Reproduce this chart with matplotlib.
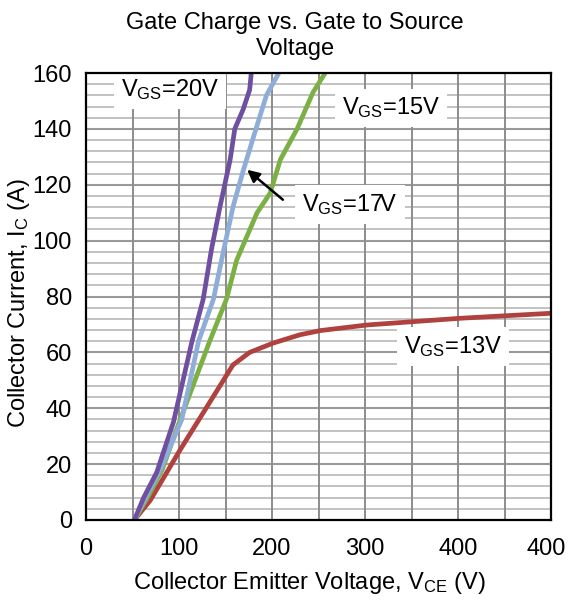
import matplotlib
matplotlib.use("Agg")
import matplotlib.pyplot as plt
import matplotlib.transforms as mtransforms
import numpy as np

plt.rcParams['font.family'] = ['Liberation Sans', 'DejaVu Sans']
plt.rcParams['mathtext.fontset'] = 'custom'
plt.rcParams['mathtext.rm'] = 'Liberation Sans'
plt.rcParams['mathtext.default'] = 'regular'

# ---- data ----
vce_20 = [52, 62, 76, 94, 114, 126, 135, 144, 155, 160, 169, 176, 178]
ic_20 = [0, 8, 17, 35, 64, 79, 97, 112, 129, 140, 147, 154, 161]

vce_17 = [52, 64, 80, 103, 121, 137, 147, 158, 169, 180, 194, 209]
ic_17 = [0, 8, 18, 36, 64, 79, 95, 112, 125, 137, 152, 161]

vce_15 = [52, 66, 82, 98, 133, 151, 162, 184, 198, 209, 227, 244, 259]
ic_15 = [0, 8, 18, 33, 64, 79, 93, 110, 117, 129, 140, 153, 161]

vce_13 = [52, 69, 101, 130, 158, 176, 201, 230, 252, 302, 402, 500]
ic_13 = [0, 7, 25, 40.5, 55.5, 60, 63.3, 66.3, 67.8, 69.8, 72.2, 74]

x_ticks = [0, 100, 200, 300, 400, 500]
x_tick_labels = ["0", "100", "200", "300", "400", "400"]
y_ticks = [0, 20, 40, 60, 80, 100, 120, 140, 160]

series_labels = ["$V_{GS}$=20V", "$V_{GS}$=17V", "$V_{GS}$=15V", "$V_{GS}$=13V"]

title = "Gate Charge vs. Gate to Source\nVoltage"
xlabel = "Collector Emitter Voltage, $V_{CE}$ (V)"
ylabel = "Collector Current, $I_C$ (A)"

# ---- figure ----
W, H = 569, 606
fig = plt.figure(figsize=(W / 100, H / 100), dpi=100)
ax = fig.add_axes([86 / W, 1 - 520 / H, (551 - 86) / W, (520 - 73) / H])
ax.set_xlim(0, 500)
ax.set_ylim(0, 160)

# grid
for yv in np.arange(4, 160, 4):
    major = (yv % 20 == 0)
    ax.axhline(yv, color='#999999' if major else '#b8b8b8', lw=1.5 if major else 1.2, zorder=1)
for xv in np.arange(50, 500, 50):
    ax.axvline(xv, color='#8c8c8c', lw=1.4, zorder=1)

lw = 3.4
ax.plot(vce_13, ic_13, color='#b0413e', lw=lw, zorder=3, solid_capstyle='round')
ax.plot(vce_15, ic_15, color='#7bb144', lw=lw, zorder=3, solid_capstyle='round')
ax.plot(vce_17, ic_17, color='#8fadd9', lw=lw, zorder=4, solid_capstyle='round')
ax.plot(vce_20, ic_20, color='#6f50a0', lw=lw, zorder=5, solid_capstyle='round')

box = dict(facecolor='white', edgecolor='none', pad=5)
fs = 17
ax.text(90, 154, series_labels[0], fontsize=fs, ha='center', va='center', bbox=box, zorder=6)
ax.text(284, 113, series_labels[1], fontsize=fs, ha='center', va='center', bbox=box, zorder=6)
ax.text(328, 147.5, series_labels[2], fontsize=fs, ha='center', va='center', bbox=box, zorder=6)
ax.text(395, 62, series_labels[3], fontsize=fs, ha='center', va='center', bbox=box, zorder=6)

ax.annotate('', xy=(171, 126), xytext=(214, 114),
            arrowprops=dict(arrowstyle='-|>', color='black', lw=1.8, mutation_scale=18),
            zorder=7)

ax.set_xticks(x_ticks)
ax.set_xticklabels(x_tick_labels)
ax.set_yticks(y_ticks)
ax.tick_params(axis='both', length=0, labelsize=fs)
ax.tick_params(axis='x', pad=13)
ax.tick_params(axis='y', pad=10)
last = ax.get_xticklabels()[-1]
last.set_transform(last.get_transform() + mtransforms.ScaledTranslation(-5 / 100, 0, fig.dpi_scale_trans))
for s in ax.spines.values():
    s.set_color('black')
    s.set_linewidth(1.6)
    s.set_zorder(8)

fig.text(295 / W, 1 - 36 / H, title, fontsize=fs, ha='center', va='center', linespacing=1.25)
fig.text(309 / W, 1 - 583 / H, xlabel, fontsize=fs, ha='center', va='center')
fig.text(19 / W, 1 - 303 / H, ylabel, fontsize=fs, ha='center', va='center', rotation=90)

fig.savefig('out.png', dpi=100)
